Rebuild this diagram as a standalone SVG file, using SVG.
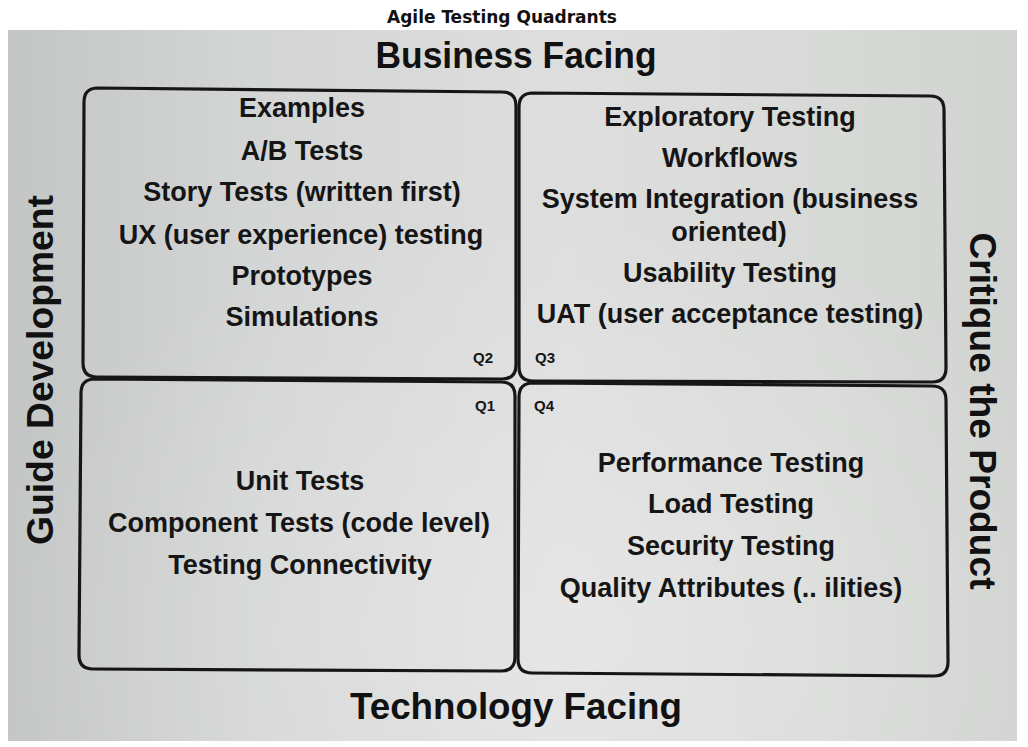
<svg xmlns="http://www.w3.org/2000/svg" width="1028" height="747" viewBox="0 0 1028 747">
  <defs>
    <linearGradient id="paper" x1="0" y1="0" x2="1" y2="0">
      <stop offset="0" stop-color="#c3c6c5"/>
      <stop offset="0.25" stop-color="#d4d6d5"/>
      <stop offset="0.55" stop-color="#dddedd"/>
      <stop offset="0.8" stop-color="#d8dad8"/>
      <stop offset="1" stop-color="#d1d3d1"/>
    </linearGradient>
    <radialGradient id="glare" cx="0.55" cy="0.85" r="0.6">
      <stop offset="0" stop-color="#ffffff" stop-opacity="0.25"/>
      <stop offset="1" stop-color="#ffffff" stop-opacity="0"/>
    </radialGradient>
  </defs>
  <style>
    .title { font-family: "DejaVu Sans", "Liberation Sans", sans-serif; font-weight: bold; font-stretch: condensed; font-size: 18px; fill: #111; }
    .axis { font-family: "Liberation Sans", Arial, sans-serif; font-weight: bold; font-size: 37px; fill: #111; }
    .item { font-family: "Liberation Sans", Arial, sans-serif; font-weight: bold; font-size: 27px; fill: #151515; text-anchor: middle; }
    .q { font-family: "Liberation Sans", Arial, sans-serif; font-weight: bold; font-size: 15px; fill: #151515; text-anchor: middle; }
    .box { fill: none; stroke: #161616; stroke-width: 3.2; stroke-linejoin: round; }
  </style>

  <!-- page -->
  <rect x="0" y="0" width="1028" height="747" fill="#ffffff"/>
  <text class="title" x="502" y="23" text-anchor="middle" textLength="230" lengthAdjust="spacingAndGlyphs">Agile Testing Quadrants</text>

  <!-- photographed sheet -->
  <rect x="8" y="30" width="1009" height="711" fill="url(#paper)"/>
  <rect x="8" y="30" width="1009" height="711" fill="url(#glare)"/>

  <!-- axis labels -->
  <g id="axis-labels">
    <text class="axis" x="516" y="68" text-anchor="middle" textLength="281" lengthAdjust="spacingAndGlyphs">Business Facing</text>
    <text class="axis" x="516" y="719" text-anchor="middle" textLength="332" lengthAdjust="spacingAndGlyphs">Technology Facing</text>
    <text class="axis" transform="translate(53,370) rotate(-90)" text-anchor="middle" textLength="350" lengthAdjust="spacingAndGlyphs">Guide Development</text>
    <text class="axis" transform="translate(970,411) rotate(90)" text-anchor="middle" textLength="357" lengthAdjust="spacingAndGlyphs">Critique the Product</text>
  </g>

  <!-- Q2: business facing, guides development -->
  <g id="q2">
    <path class="box" d="M98,88 L502,92 Q516,92 516,106 L516,365 Q516,379 502,379 L97,377 Q83,377 83,363 L84,102 Q84,88 98,88 Z"/>
    <text class="item" x="302" y="117">Examples</text>
    <text class="item" x="302" y="160">A/B Tests</text>
    <text class="item" x="302" y="201">Story Tests (written first)</text>
    <text class="item" x="301" y="244">UX (user experience) testing</text>
    <text class="item" x="302" y="285">Prototypes</text>
    <text class="item" x="302" y="326">Simulations</text>
    <text class="q" x="483" y="363">Q2</text>
  </g>

  <!-- Q3: business facing, critiques the product -->
  <g id="q3">
    <path class="box" d="M533,93 L930,96 Q944,96 944,110 L946,368 Q946,382 932,382 L533,381 Q519,381 519,367 L519,107 Q519,93 533,93 Z"/>
    <text class="item" x="730" y="126">Exploratory Testing</text>
    <text class="item" x="730" y="167">Workflows</text>
    <text class="item" x="730" y="208">System Integration (business</text>
    <text class="item" x="729" y="241">oriented)</text>
    <text class="item" x="730" y="282">Usability Testing</text>
    <text class="item" x="730" y="323">UAT (user acceptance testing)</text>
    <text class="q" x="545" y="363">Q3</text>
  </g>

  <!-- Q1: technology facing, guides development -->
  <g id="q1">
    <path class="box" d="M95,379 L501,382 Q515,382 515,396 L515,657 Q515,671 501,671 L93,669 Q79,669 79,655 L81,393 Q81,379 95,379 Z"/>
    <text class="q" x="485" y="411">Q1</text>
    <text class="item" x="300" y="490">Unit Tests</text>
    <text class="item" x="299" y="532">Component Tests (code level)</text>
    <text class="item" x="300" y="574">Testing Connectivity</text>
  </g>

  <!-- Q4: technology facing, critiques the product -->
  <g id="q4">
    <path class="box" d="M533,383 L932,386 Q946,386 946,400 L948,662 Q948,676 934,676 L532,673 Q518,673 518,659 L519,397 Q519,383 533,383 Z"/>
    <text class="q" x="544" y="411">Q4</text>
    <text class="item" x="731" y="472">Performance Testing</text>
    <text class="item" x="731" y="513">Load Testing</text>
    <text class="item" x="731" y="555">Security Testing</text>
    <text class="item" x="731" y="597">Quality Attributes (.. ilities)</text>
  </g>
</svg>
